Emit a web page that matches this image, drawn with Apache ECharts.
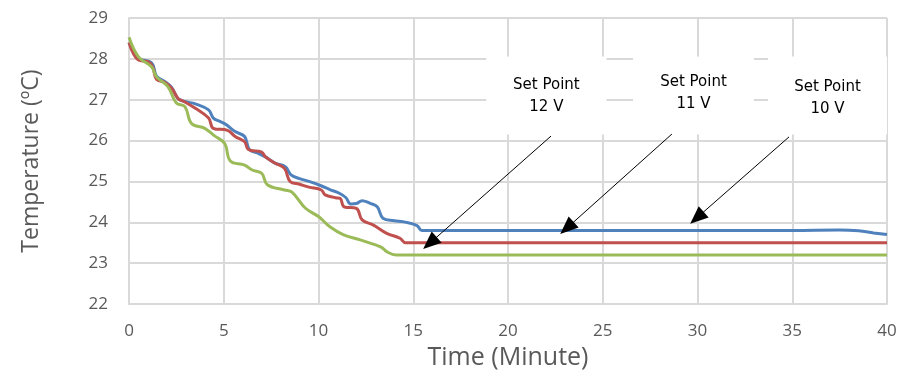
<!DOCTYPE html>
<html>
<head>
<meta charset="utf-8">
<script src="https://cdn.jsdelivr.net/npm/echarts@6/dist/echarts.min.js"></script>
<style>
  html, body { margin: 0; padding: 0; background: #fff; }
  #main { width: 901px; height: 390px; }
</style>
</head>
<body>
<div id="main"></div>
<script>
// [minute, temperature]
var blueLine = [
  [0, 28.4], [0.5, 28.02], [1.2, 27.9], [1.45, 27.58], [1.9, 27.44], [2.25, 27.3],
  [2.6, 27.02], [3.0, 26.95], [3.5, 26.9], [4.2, 26.75], [4.45, 26.55], [4.8, 26.47],
  [5.1, 26.4], [5.6, 26.22], [6.1, 26.1], [6.35, 25.78], [6.8, 25.69], [7.2, 25.6],
  [7.7, 25.45], [8.25, 25.36], [8.55, 25.16], [9.0, 25.07], [9.5, 25.0], [10.1, 24.9],
  [10.6, 24.8], [11.1, 24.71], [11.45, 24.6], [11.7, 24.45], [12.0, 24.46], [12.3, 24.53],
  [12.7, 24.47], [13.1, 24.38], [13.4, 24.1], [14.0, 24.04], [14.5, 24.01], [15.2, 23.92],
  [15.45, 23.8], [16, 23.8], [20, 23.8], [25, 23.8], [30, 23.8], [35, 23.8],
  [37.5, 23.81], [38.5, 23.79], [39.3, 23.74], [40, 23.7]
];
var redLine = [
  [0, 28.4], [0.5, 27.97], [1.0, 27.93], [1.25, 27.8], [1.45, 27.5], [1.9, 27.42],
  [2.25, 27.28], [2.6, 27.02], [2.8, 26.98], [3.5, 26.79], [4.2, 26.55], [4.45, 26.3],
  [5.2, 26.25], [5.6, 26.1], [6.1, 25.97], [6.3, 25.78], [7.0, 25.72], [7.2, 25.6],
  [7.7, 25.45], [8.2, 25.32], [8.5, 25.0], [9.0, 24.93], [9.5, 24.86], [10.15, 24.79],
  [10.35, 24.67], [10.9, 24.6], [11.15, 24.58], [11.35, 24.38], [12.0, 24.34], [12.3, 24.06],
  [12.9, 23.93], [13.6, 23.73], [14.3, 23.61], [14.6, 23.5], [16, 23.5], [20, 23.5],
  [30, 23.5], [40, 23.5]
];
var greenLine = [
  [0, 28.53], [0.5, 28.05], [1.2, 27.8], [1.45, 27.56], [2.05, 27.32], [2.5, 26.92],
  [2.95, 26.83], [3.3, 26.42], [4.0, 26.3], [4.5, 26.12], [5.05, 25.93], [5.35, 25.5],
  [6.1, 25.4], [6.5, 25.28], [7.0, 25.2], [7.3, 24.92], [8.2, 24.79], [8.6, 24.74],
  [9.3, 24.35], [10.0, 24.14], [10.6, 23.89], [11.3, 23.7], [12.2, 23.57], [13.05, 23.44],
  [13.35, 23.38], [13.6, 23.28], [14.1, 23.2], [16, 23.2], [40, 23.2]
];

// callouts: text, box [x0, y0, x1, y1], arrow [from, to] (data units)
var noteText = ['Set Point\n12 V', 'Set Point\n11 V', 'Set Point\n10 V'];
var noteBox = [
  [18.85, 28.06, 25.2, 26.15],
  [26.6, 28.06, 32.98, 26.15],
  [33.72, 28.06, 40, 26.15]
];
var noteArrow = [
  [[22.27, 26.11], [15.88, 23.49]],
  [[28.65, 26.16], [23.11, 23.86]],
  [[34.83, 26.09], [29.97, 24.11]]
];
var noteOffset = [[0, 1], [0, -2], [0, 3]];

var gridColor = '#d9d9d9';
var txtColor = '#595959';

var areas = noteBox.map(function (b, i) {
  return [
    { coord: [b[0], b[1]], label: { formatter: noteText[i], offset: noteOffset[i] } },
    { coord: [b[2], b[3]] }
  ];
});
var arrows = noteArrow.map(function (a) {
  return [{ coord: a[0] }, { coord: a[1] }];
});

var myChart = echarts.init(document.getElementById('main'));
myChart.setOption({
  animation: false,
  grid: { left: 129, right: 14, top: 18, bottom: 86 },
  xAxis: {
    type: 'value',
    min: 0, max: 40, interval: 5,
    name: 'Time (Minute)',
    nameLocation: 'middle',
    nameGap: 25,
    nameTextStyle: { fontFamily: 'Open Sans', fontSize: 25, color: txtColor },
    axisLine: { show: true, lineStyle: { color: gridColor, width: 2 } },
    axisTick: { show: false },
    axisLabel: { fontFamily: 'Open Sans', fontSize: 17, color: txtColor, margin: 19 },
    splitLine: { show: true, lineStyle: { color: gridColor, width: 2 } }
  },
  yAxis: {
    type: 'value',
    min: 22, max: 29, interval: 1,
    name: 'Temperature (ºC)',
    nameLocation: 'middle',
    nameGap: 86,
    nameTextStyle: { fontFamily: 'Open Sans', fontSize: 23, color: txtColor },
    axisLine: { show: true, lineStyle: { color: gridColor, width: 2 } },
    axisTick: { show: false },
    axisLabel: { fontFamily: 'Open Sans', fontSize: 17, color: txtColor, margin: 21 },
    splitLine: { show: true, lineStyle: { color: gridColor, width: 2 } }
  },
  series: [
    {
      name: 'blue',
      type: 'line',
      data: blueLine,
      smooth: 0.4,
      showSymbol: false,
      lineStyle: { color: '#4F81BD', width: 3 },
      itemStyle: { color: '#4F81BD' }
    },
    {
      name: 'red',
      type: 'line',
      data: redLine,
      smooth: 0.4,
      showSymbol: false,
      lineStyle: { color: '#C0504D', width: 3 },
      itemStyle: { color: '#C0504D' }
    },
    {
      name: 'green',
      type: 'line',
      data: greenLine,
      smooth: 0.4,
      showSymbol: false,
      lineStyle: { color: '#9BBB59', width: 3 },
      itemStyle: { color: '#9BBB59' }
    },
    {
      name: 'notes',
      type: 'line',
      data: [],
      silent: true,
      markArea: {
        silent: true,
        itemStyle: { color: '#ffffff' },
        label: {
          show: true,
          position: 'inside',
          fontFamily: 'DejaVu Sans',
          fontSize: 15,
          lineHeight: 22,
          color: '#000',
          align: 'center'
        },
        data: areas
      },
      markLine: {
        silent: true,
        symbol: ['none', 'triangle'],
        symbolSize: [15, 18],
        label: { show: false },
        lineStyle: { color: '#000', width: 1, type: 'solid' },
        data: arrows
      }
    }
  ]
});
</script>
</body>
</html>
